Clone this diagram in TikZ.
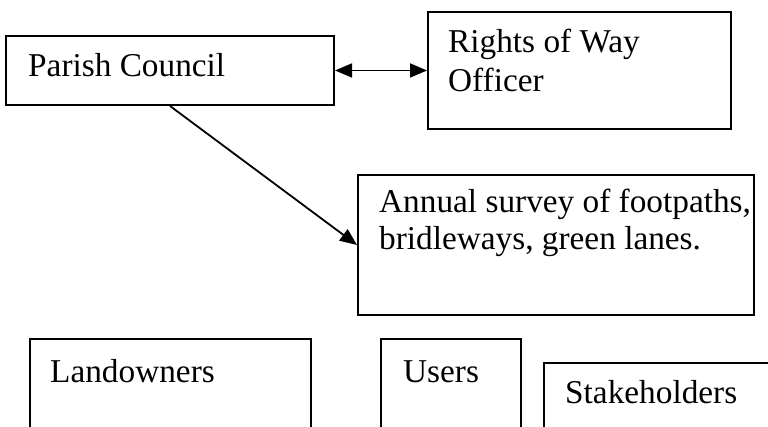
\documentclass[tikz,border=0pt]{standalone}
\usepackage{fontspec}
\setmainfont{Liberation Serif}
\usetikzlibrary{arrows.meta}
\begin{document}
\begin{tikzpicture}[x=1pt,y=-1pt,
  box/.style={draw, line width=2pt, rectangle, inner sep=0pt, anchor=north west},
  lbl/.style={anchor=base west, inner sep=0pt, font=\fontsize{33.3pt}{38pt}\selectfont},
  tip/.style={Triangle[length=17pt,width=14pt]},
  link/.style={line width=1.8pt, -{Triangle[length=17pt,width=14pt]}},
  both/.style={line width=1.8pt, {Triangle[length=17pt,width=14pt]}-{Triangle[length=17pt,width=14pt]}}]
  \useasboundingbox (0,0) rectangle (768,427);
  \clip (0,0) rectangle (768,427);

  % boxes
  \node[box, minimum width=328pt, minimum height=69pt]  (pc)   at (5,35)   {};
  \node[box, minimum width=303pt, minimum height=117pt] (row)  at (427,11) {};
  \node[box, minimum width=396pt, minimum height=140pt] (surv) at (357,174) {};
  \node[box, minimum width=281pt, minimum height=110pt] (land) at (29,338) {};
  \node[box, minimum width=140pt, minimum height=110pt] (user) at (380,338) {};
  \node[box, minimum width=250pt, minimum height=90pt]  (stak) at (543,362) {};

  % texts
  \node[lbl] (tpc)  at (28,77)   {Parish Council};
  \node[lbl] (trow1) at (448,53)  {Rights of Way};
  \node[lbl] (trow2) at (448,92)  {Officer};
  \node[lbl] (tsv1) at (379,213) {Annual survey of footpaths,};
  \node[lbl] (tsv2) at (379,250) {bridleways, green lanes.};
  \node[lbl] (tland) at (50,382)  {Landowners};
  \node[lbl] (tuser) at (403,382) {Users};
  \node[lbl] (tstak) at (565,403) {Stakeholders};

  % connectors
  \draw[both] (pc.east) -- (row.west);
  \draw[link] (pc.south) -- (surv.west);
\end{tikzpicture}
\end{document}
